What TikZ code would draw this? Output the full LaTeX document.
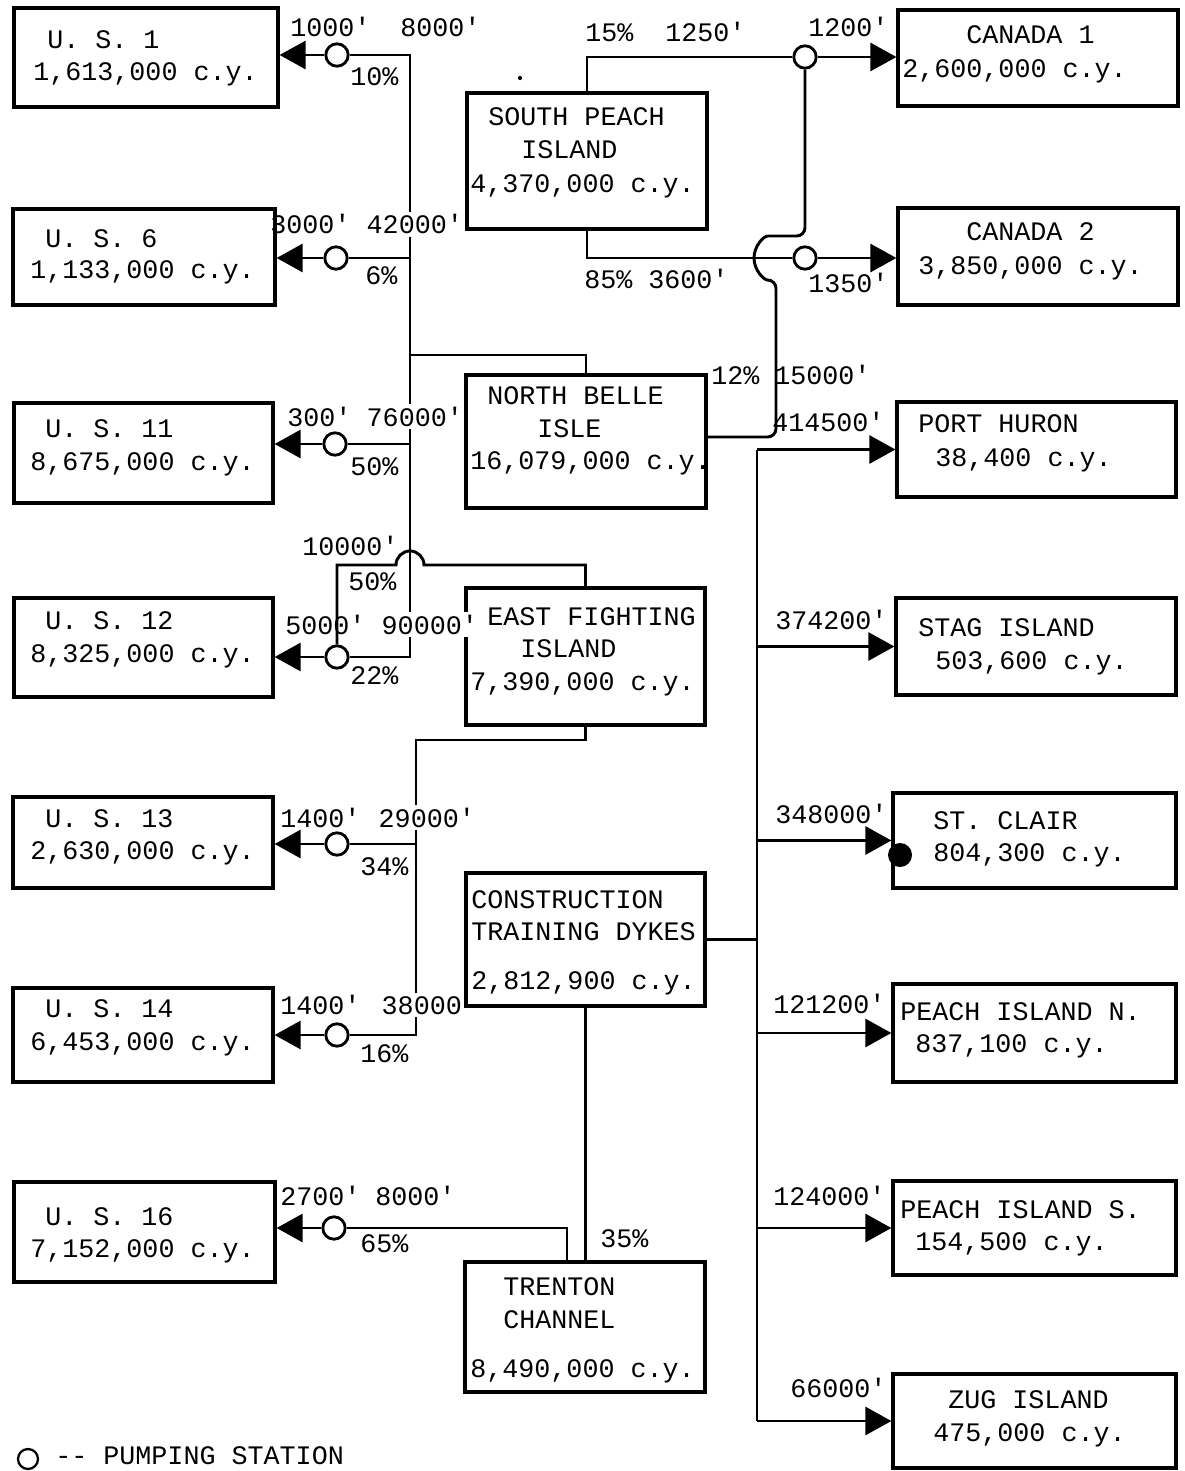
\documentclass[tikz,border=0pt]{standalone}
\usepackage{fontspec}
\setmonofont{Liberation Mono}
\usetikzlibrary{arrows.meta,fit}
\begin{document}
\begin{tikzpicture}[x=0.025cm,y=-0.025cm,
 box/.style={draw,line width=2.3pt,inner sep=0pt},
 txt/.style={anchor=base west,inner sep=0pt,font=\ttfamily\fontsize{19}{22}\selectfont},
 wlbl/.style={txt,fill=white,inner xsep=1pt,inner ysep=2pt},
 ln/.style={line width=2.1pt},
 arr/.style={ln,-{Triangle[length=6.5mm,width=7mm]}},
 pump/.style={circle,draw,line width=2pt,fill=white,minimum size=0.56cm,inner sep=0pt}]
\useasboundingbox (0,0) rectangle (1184,1471);
% boxes
\node[box,fit={(14,8)(278,107)}] (us1) {};
\node[box,fit={(13,209)(275,305)}] (us6) {};
\node[box,fit={(14,403)(273,503)}] (us11) {};
\node[box,fit={(14,598)(273,697)}] (us12) {};
\node[box,fit={(13,797)(273,888)}] (us13) {};
\node[box,fit={(13,988)(273,1082)}] (us14) {};
\node[box,fit={(14,1182)(275,1282)}] (us16) {};
\node[box,fit={(467,93)(707,229)}] (spi) {};
\node[box,fit={(466,375)(706,508)}] (nbi) {};
\node[box,fit={(466,588)(705,725)}] (efi) {};
\node[box,fit={(466,873)(705,1006)}] (ctd) {};
\node[box,fit={(465,1262)(705,1392)}] (tc) {};
\node[box,fit={(898,10)(1178,106)}] (can1) {};
\node[box,fit={(898,208)(1178,305)}] (can2) {};
\node[box,fit={(897,402)(1176,497)}] (ph) {};
\node[box,fit={(896,598)(1176,695)}] (stag) {};
\node[box,fit={(893,793)(1176,888)}] (stc) {};
\node[box,fit={(893,984)(1176,1082)}] (pin) {};
\node[box,fit={(893,1181)(1176,1275)}] (pis) {};
\node[box,fit={(893,1374)(1176,1468)}] (zug) {};
% coordinates
\coordinate (tA) at (410,55);
\coordinate (tB) at (410,657);
\coordinate (j1) at (410,355);
\coordinate (hopR) at (424,565);
\coordinate (j2) at (416,740);
\coordinate (j3) at (567,1262);
\coordinate (j5) at (776,236);
\coordinate (j4) at (776,437);
\coordinate (rtx) at (757,0);
% pumps
\node[pump] (p1) at (337,55) {};
\node[pump] (p6) at (336,258) {};
\node[pump] (p11) at (335,444) {};
\node[pump] (p12) at (337,657) {};
\node[pump] (p13) at (337,844) {};
\node[pump] (p14) at (337,1035) {};
\node[pump] (p16) at (334,1228) {};
\node[pump] (pc1) at (805,57) {};
\node[pump] (pc2) at (805,258) {};
% left network
\draw[ln] (p1) -- (tA) -- (tB) -- (p12);
\draw[ln] (p6) -- (p6 -| tA);
\draw[ln] (p11) -- (p11 -| tA);
\draw[ln] (nbi.north) |- (j1);
\draw[ln] (efi.north) |- (hopR) arc[start angle=0,end angle=180,radius=0.35cm] -| (p12.north);
\draw[ln] (efi.south) |- (j2) |- (p14);
\draw[ln] (p13) -- (p13 -| j2);
\draw[ln] (ctd.south) -- (ctd.south |- tc.north);
\draw[ln] (j3) |- (p16);
\draw[arr] (p1) -- (p1 -| us1.east);
\draw[arr] (p6) -- (p6 -| us6.east);
\draw[arr] (p11) -- (p11 -| us11.east);
\draw[arr] (p12) -- (p12 -| us12.east);
\draw[arr] (p13) -- (p13 -| us13.east);
\draw[arr] (p14) -- (p14 -| us14.east);
\draw[arr] (p16) -- (p16 -| us16.east);
% right network
\draw[ln] (spi.north) |- (pc1);
\draw[arr] (pc1) -- (pc1 -| can1.west);
\draw[ln] (spi.south) |- (pc2);
\draw[arr] (pc2) -- (pc2 -| can2.west);
\draw[ln,rounded corners=6pt] (pc1.south) |- (j5) arc[start angle=90,end angle=270,radius=0.55cm] -- (j4) -- (j4 -| nbi.east);
\draw[ln] (ctd.east) -- (ctd.east -| rtx);
\draw[ln] (rtx |- ph.west) -- (rtx |- zug.west);
\draw[arr] (rtx |- ph.west) -- (ph.west);
\draw[arr] (rtx |- stag.west) -- (stag.west);
\draw[arr] (rtx |- stc.west) -- (stc.west);
\draw[arr] (rtx |- pin.west) -- (pin.west);
\draw[arr] (rtx |- pis.west) -- (pis.west);
\draw[arr] (rtx |- zug.west) -- (zug.west);
\node[circle,fill,inner sep=0pt,minimum size=0.6cm] (stcdot) at (900,855) {};
\node[circle,fill,inner sep=0pt,minimum size=3pt] (speck) at (520,78) {};
% box texts
\node[txt] (a1) at (47,49) {U. S. 1};
\node[txt] (a2) at (33,81) {1,613,000 c.y.};
\node[txt] (a3) at (45,247) {U. S. 6};
\node[txt] (a4) at (30,279) {1,133,000 c.y.};
\node[txt] (a5) at (45,437) {U. S. 11};
\node[txt] (a6) at (30,470) {8,675,000 c.y.};
\node[txt] (a7) at (45,629) {U. S. 12};
\node[txt] (a8) at (30,662) {8,325,000 c.y.};
\node[txt] (a9) at (45,827) {U. S. 13};
\node[txt] (a10) at (30,859) {2,630,000 c.y.};
\node[txt] (a11) at (45,1017) {U. S. 14};
\node[txt] (a12) at (30,1050) {6,453,000 c.y.};
\node[txt] (a13) at (45,1225) {U. S. 16};
\node[txt] (a14) at (30,1257) {7,152,000 c.y.};
\node[txt] (b1) at (488,126) {SOUTH PEACH};
\node[txt] (b2) at (521,159) {ISLAND};
\node[txt] (b3) at (470,193) {4,370,000 c.y.};
\node[txt] (b4) at (487,404) {NORTH BELLE};
\node[txt] (b5) at (537,437) {ISLE};
\node[txt] (b6) at (470,469) {16,079,000 c.y.};
\node[txt] (b7) at (487,625) {EAST FIGHTING};
\node[txt] (b8) at (520,657) {ISLAND};
\node[txt] (b9) at (470,690) {7,390,000 c.y.};
\node[txt] (b10) at (471,908) {CONSTRUCTION};
\node[txt] (b11) at (471,940) {TRAINING DYKES};
\node[txt] (b12) at (471,989) {2,812,900 c.y.};
\node[txt] (b13) at (503,1295) {TRENTON};
\node[txt] (b14) at (503,1328) {CHANNEL};
\node[txt] (b15) at (470,1377) {8,490,000 c.y.};
\node[txt] (c1) at (966,44) {CANADA 1};
\node[txt] (c2) at (902,78) {2,600,000 c.y.};
\node[txt] (c3) at (966,241) {CANADA 2};
\node[txt] (c4) at (918,275) {3,850,000 c.y.};
\node[txt] (c5) at (918,432) {PORT HURON};
\node[txt] (c6) at (935,466) {38,400 c.y.};
\node[txt] (c7) at (918,636) {STAG ISLAND};
\node[txt] (c8) at (935,669) {503,600 c.y.};
\node[txt] (c9) at (933,829) {ST. CLAIR};
\node[txt] (c10) at (933,861) {804,300 c.y.};
\node[txt] (c11) at (900,1020) {PEACH ISLAND N.};
\node[txt] (c12) at (915,1052) {837,100 c.y.};
\node[txt] (c13) at (900,1218) {PEACH ISLAND S.};
\node[txt] (c14) at (915,1250) {154,500 c.y.};
\node[txt] (c15) at (948,1408) {ZUG ISLAND};
\node[txt] (c16) at (933,1441) {475,000 c.y.};
% connector labels
\node[txt] (l1) at (290,37) {1000'};
\node[txt] (l2) at (400,37) {8000'};
\node[txt] (l3) at (350,86) {10\%};
\node[txt] (l4) at (270,234) {3000'};
\node[wlbl] (l5) at (365,234) {42000'};
\node[txt] (l6) at (365,284) {6\%};
\node[txt] (l7) at (287,426) {300'};
\node[wlbl] (l8) at (365,426) {76000'};
\node[txt] (l9) at (350,475) {50\%};
\node[txt] (l10) at (302,555) {10000'};
\node[txt] (l11) at (348,590) {50\%};
\node[txt] (l12) at (285,634) {5000'};
\node[wlbl] (l13) at (380,634) {90000'};
\node[txt] (l14) at (350,684) {22\%};
\node[txt] (l15) at (280,827) {1400'};
\node[wlbl] (l16) at (377,827) {29000'};
\node[txt] (l17) at (360,875) {34\%};
\node[txt] (l18) at (280,1014) {1400'};
\node[wlbl] (l19) at (380,1014) {38000};
\node[txt] (l20) at (360,1062) {16\%};
\node[txt] (l21) at (280,1205) {2700'};
\node[txt] (l22) at (375,1205) {8000'};
\node[txt] (l23) at (360,1252) {65\%};
\node[txt] (l24) at (600,1247) {35\%};
\node[txt] (l25) at (585,42) {15\%};
\node[txt] (l26) at (665,42) {1250'};
\node[txt] (l27) at (808,37) {1200'};
\node[txt] (l28) at (584,288) {85\%};
\node[txt] (l29) at (648,288) {3600'};
\node[txt] (l30) at (808,292) {1350'};
\node[txt] (l31) at (711,384) {12\%};
\node[txt] (l32) at (774,384) {15000'};
\node[txt] (l33) at (772,431) {414500'};
\node[txt] (l34) at (775,629) {374200'};
\node[txt] (l35) at (775,823) {348000'};
\node[txt] (l36) at (773,1013) {121200'};
\node[txt] (l37) at (773,1205) {124000'};
\node[txt] (l38) at (790,1397) {66000'};
% legend
\node[pump,minimum size=0.5cm,line width=1.6pt] (legpump) at (28,1459) {};
\node[txt] (leg) at (55,1464) {-- PUMPING STATION};
\end{tikzpicture}
\end{document}
